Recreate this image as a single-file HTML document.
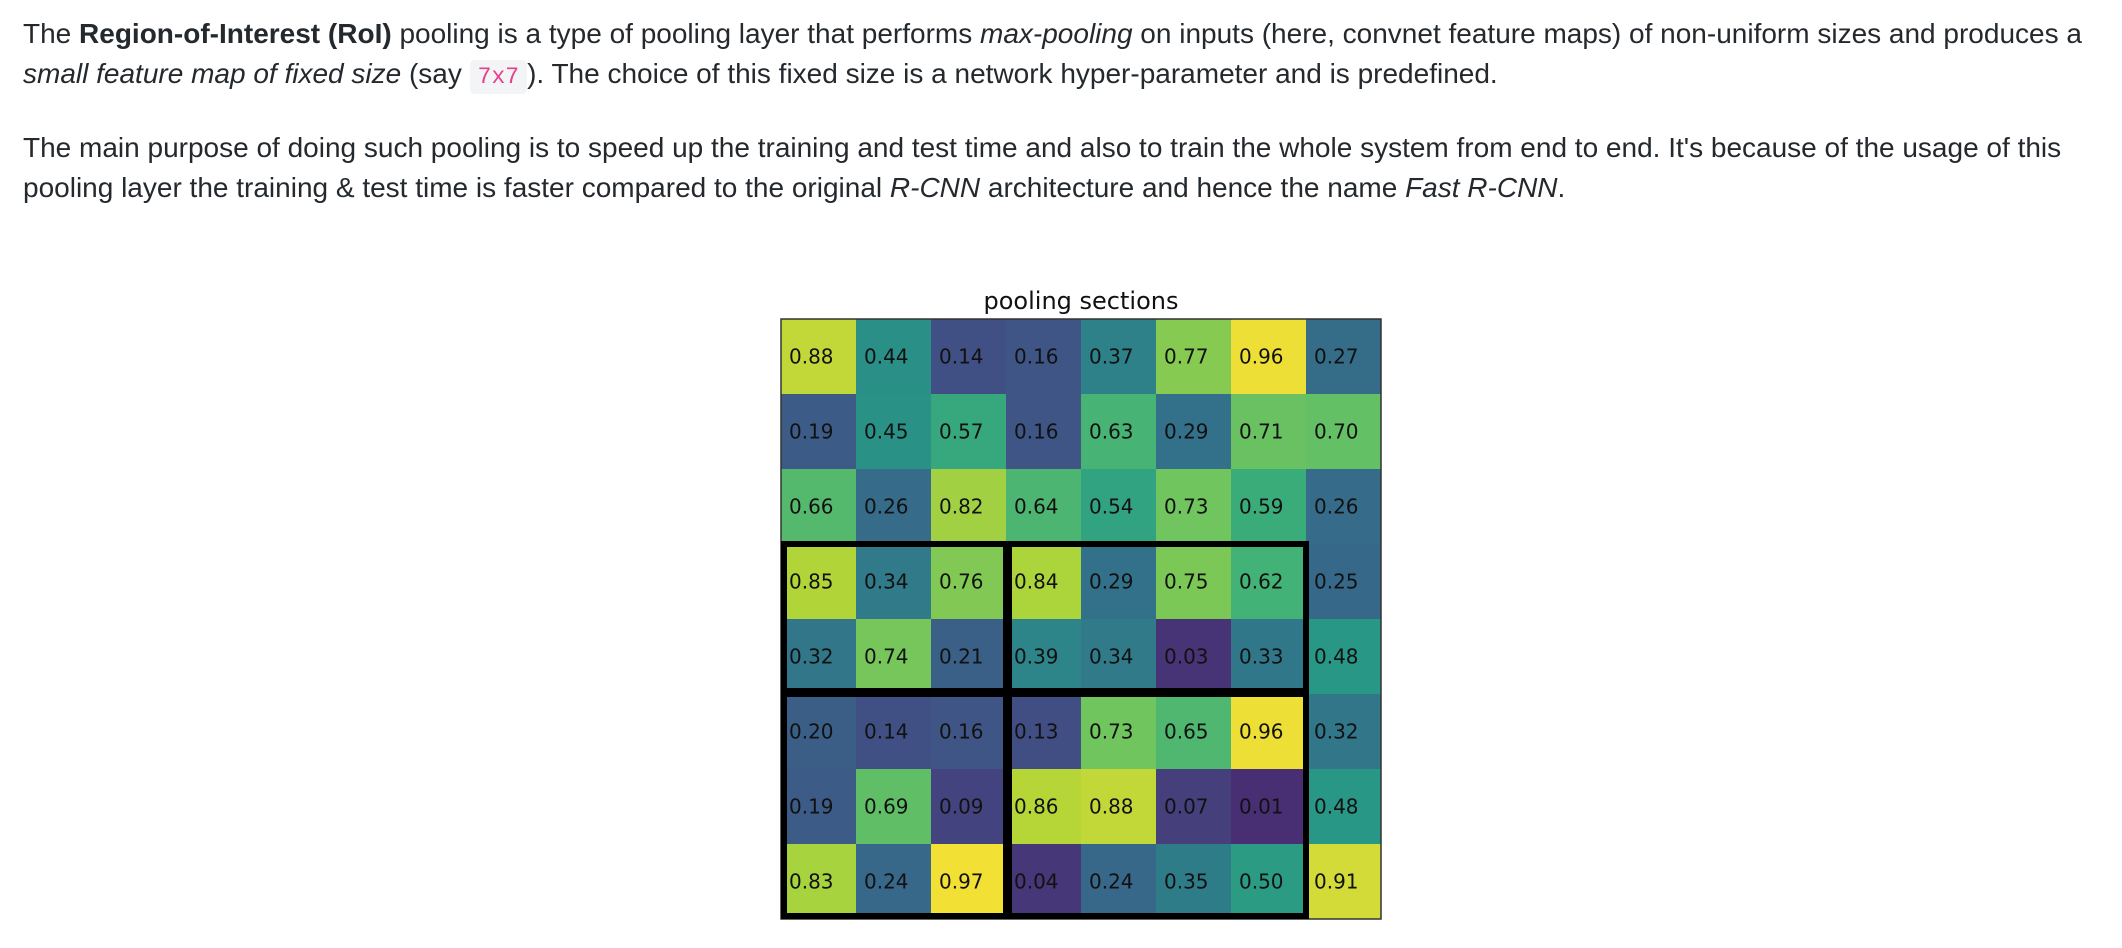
<!DOCTYPE html>
<html><head><meta charset="utf-8">
<style>
body{margin:0;width:2122px;height:948px;background:#fff;overflow:hidden;position:relative;font-family:"Liberation Sans",Arial,sans-serif;color:#24292e;}
.ln{position:absolute;left:23px;font-size:28px;line-height:40px;white-space:nowrap;}
code{font-family:"Liberation Mono",monospace;color:#e83e8c;background:#f3f4f5;border-radius:5px;padding:4px 8px;font-size:23px;}
svg{position:absolute;left:0;top:0;}
</style></head><body>
<div class="ln" style="top:14px">The <b>Region-of-Interest (RoI)</b> pooling is a type of pooling layer that performs <i>max-pooling</i> on inputs (here, convnet feature maps) of non-uniform sizes and produces a</div>
<div class="ln" style="top:54px"><i>small feature map of fixed size</i> (say <code>7x7</code>). The choice of this fixed size is a network hyper-parameter and is predefined.</div>
<div class="ln" style="top:128px">The main purpose of doing such pooling is to speed up the training and test time and also to train the whole system from end to end. It's because of the usage of this</div>
<div class="ln" style="top:168px">pooling layer the training &amp; test time is faster compared to the original <i>R-CNN</i> architecture and hence the name <i>Fast R-CNN</i>.</div>
<svg id="chart" width="2122" height="948"></svg>
<script>
const rowsData = [
 [0.88,0.44,0.14,0.16,0.37,0.77,0.96,0.27],
 [0.19,0.45,0.57,0.16,0.63,0.29,0.71,0.70],
 [0.66,0.26,0.82,0.64,0.54,0.73,0.59,0.26],
 [0.85,0.34,0.76,0.84,0.29,0.75,0.62,0.25],
 [0.32,0.74,0.21,0.39,0.34,0.03,0.33,0.48],
 [0.20,0.14,0.16,0.13,0.73,0.65,0.96,0.32],
 [0.19,0.69,0.09,0.86,0.88,0.07,0.01,0.48],
 [0.83,0.24,0.97,0.04,0.24,0.35,0.50,0.91]
];
// pooling sections: [rowStart,rowEnd,colStart,colEnd] (end exclusive)
const sections = [[3,5,0,3],[3,5,3,7],[5,8,0,3],[5,8,3,7]];
const titleText = "pooling sections";

const NS="http://www.w3.org/2000/svg";
const svg=document.getElementById('chart');
const X0=781,Y0=319,CW=75,CH=75;
const nR=rowsData.length,nC=rowsData[0].length;
const xAt=c=>X0+c*CW, yAt=r=>Y0+r*CH;
const vir=[[68,1,84],[72,40,120],[62,74,137],[49,104,142],[38,130,142],[31,158,137],[53,183,121],[109,205,89],[180,222,44],[253,231,37]];
let all=rowsData.flat();const vmin=Math.min(...all),vmax=Math.max(...all);
function color(v){let n=(v-vmin)/(vmax-vmin);let t=(0.12+0.88*n)*(vir.length-1);let i=Math.min(Math.floor(t),vir.length-2);let f=t-i;
 const c=vir[i].map((a,k)=>a+(vir[i+1][k]-a)*f);
 const g=(c[0]+c[1]+c[2])/3;const d=c.map(x=>Math.round(x*0.88+g*0.12));
 return `rgb(${d[0]},${d[1]},${d[2]})`;}
function mk(tag,attrs){const e=document.createElementNS(NS,tag);for(const k in attrs)e.setAttribute(k,attrs[k]);return e;}
const title=mk('text',{x:X0+nC*CW/2,y:Y0-10,'text-anchor':'middle','font-family':'DejaVu Sans, sans-serif','font-size':'24',fill:'#111'});
title.textContent=titleText;


svg.appendChild(title);
rowsData.forEach((row,r)=>row.forEach((v,c)=>{
 const rect=mk('rect',{x:xAt(c),y:yAt(r),width:CW,height:CH,fill:color(v)});
 
 
 svg.appendChild(rect);
}));
rowsData.forEach((row,r)=>row.forEach((v,c)=>{
 const t=mk('text',{x:xAt(c)+8,y:yAt(r)+CH/2+7,'font-family':'DejaVu Sans, sans-serif','font-size':'20',fill:'#111'});
 t.textContent=v.toFixed(2);
 
 
 svg.appendChild(t);
}));
const border=mk('rect',{x:X0,y:Y0,width:nC*CW,height:nR*CH,fill:'none',stroke:'#333','stroke-width':1.5});


svg.appendChild(border);
sections.forEach(s=>{
 const b=mk('rect',{x:xAt(s[2])+3,y:yAt(s[0]),width:(s[3]-s[2])*CW-3,height:(s[1]-s[0])*CH-3,fill:'none',stroke:'#000','stroke-width':6});
 
 
 svg.appendChild(b);
});
</script>
</body></html>
